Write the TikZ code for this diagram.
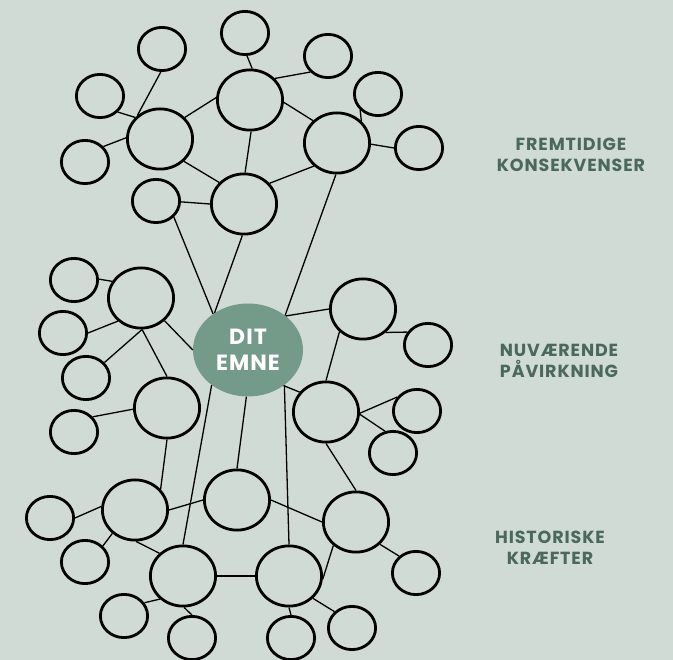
\documentclass[tikz,border=0pt]{standalone}
\usepackage{fontspec}
\usetikzlibrary{shapes.geometric}
\newfontfamily\labfont{Poppins}[LetterSpace=5]
\definecolor{bgc}{HTML}{D1DBD6}
\definecolor{hubc}{HTML}{749B89}
\definecolor{labc}{HTML}{4A685B}
\begin{document}
\begin{tikzpicture}[x=1pt,y=-1pt,
  ring/.style={ellipse,draw=black,line width=2.8pt,inner sep=0pt},
  sm/.style={ring,minimum width=47.2pt,minimum height=43.2pt},
  md/.style={ring,minimum width=65.2pt,minimum height=60.2pt},
  hub/.style={ellipse,fill=hubc,minimum width=110pt,minimum height=93pt,inner sep=0pt,
    text=white,align=center,font=\labfont\bfseries\fontsize{22}{26}\selectfont},
  link/.style={line width=1.3pt,draw=black},
  lab/.style={text=labc,align=center,inner sep=0pt,
    font=\labfont\bfseries\fontsize{17.5}{21}\selectfont}]
\fill[bgc] (0,0) rectangle (673,660);
\useasboundingbox (0,0) rectangle (673,660);

% central topic
\node[hub] (c) at (248,350) {DIT\\EMNE};

% upper cluster
\node[sm] (t1) at (162,49) {};
\node[sm] (t2) at (245,33) {};
\node[sm] (t3) at (328,56) {};
\node[sm] (t4) at (100,96) {};
\node[sm] (t5) at (378,94) {};
\node[md] (t6) at (250,100) {};
\node[md] (t7) at (160,139) {};
\node[md] (t8) at (337,143) {};
\node[sm] (t9) at (85,162) {};
\node[sm] (t10) at (419,148) {};
\node[sm] (t11) at (156,201) {};
\node[md] (t12) at (244,204) {};

% middle cluster
\node[sm] (m1) at (74,280) {};
\node[md] (m2) at (141,298) {};
\node[sm] (m3) at (63,333) {};
\node[sm] (m4) at (86,378) {};
\node[md] (m5) at (167,408) {};
\node[sm] (m6) at (74,432) {};
\node[md] (m7) at (363,309) {};
\node[sm] (m8) at (428,345) {};
\node[md] (m9) at (326,412) {};
\node[sm] (m10) at (417,411) {};
\node[sm] (m11) at (393,453) {};

% lower cluster
\node[md] (b1) at (135,510) {};
\node[sm] (b2) at (50,518) {};
\node[md] (b3) at (237,500) {};
\node[md] (b4) at (356,522) {};
\node[md] (b5) at (183,576) {};
\node[md] (b6) at (289,576) {};
\node[sm] (b7) at (85,562) {};
\node[sm] (b8) at (124,616) {};
\node[sm] (b9) at (192,638) {};
\node[sm] (b10) at (291,638) {};
\node[sm] (b11) at (352,628) {};
\node[sm] (b12) at (416,573) {};

% connectors, upper cluster
\draw[link] (t1.-93) -- (t7.134);
\draw[link] (t4.-42) -- (t7.139);
\draw[link] (t9.40) -- (t7.178);
\draw[link] (t7.41) -- (t6.176);
\draw[link] (t2.-85) -- (t6.86);
\draw[link] (t6.41) -- (t3.222);
\draw[link] (t6.-4) -- (t8.137);
\draw[link] (t6.-88) -- (t12.88);
\draw[link] (t7.-43) -- (t12.139);
\draw[link] (t5.-138) -- (t8.42);
\draw[link] (t8.-2) -- (t10.180);
\draw[link] (t8.-135) -- (t12.39);
\draw[link] (t11.-2) -- (t12.180);
\draw[link] (t11.-42) -- (c.134);
\draw[link] (t12.-93) -- (c.132);
\draw[link] (t8.-92) -- (c.43);

% connectors, middle cluster
\draw[link] (m1.2) -- (m2.150);
\draw[link] (m3.0) -- (m2.-135);
\draw[link] (m4.40) -- (m2.-88);
\draw[link] (m2.-88) -- (m5.90);
\draw[link] (m2.-44) -- (c.180);
\draw[link] (m6.39) -- (m5.182);
\draw[link] (c.42) -- (m7.180);
\draw[link] (m7.-46) -- (m8.148);
\draw[link] (m7.-136) -- (m9.90);
\draw[link] (c.-45) -- (m9.143);
\draw[link] (m9.-2) -- (m10.145);
\draw[link] (m9.-4) -- (m11.110);
\draw[link] (m9.-90) -- (b4.90);
\draw[link] (m5.-90) -- (b1.39);

% connectors from the centre down
\draw[link] (c.-92) -- (b3.90);
\draw[link] (c.-136) -- (b5.90);
\draw[link] (c.-44) -- (b6.90);

% connectors, lower cluster
\draw[link] (b2.0) -- (b1.174);
\draw[link] (b7.42) -- (b1.-134);
\draw[link] (b1.0) -- (b3.180);
\draw[link] (b1.-88) -- (b5.136);
\draw[link] (b3.0) -- (b4.180);
\draw[link] (b4.-134) -- (b6.-5);
\draw[link] (b4.-43) -- (b12.135);
\draw[link] (b5.0) -- (b6.180);
\draw[link] (b5.-135) -- (b8.33);
\draw[link] (b5.-88) -- (b9.90);
\draw[link] (b6.-90) -- (b10.90);
\draw[link] (b6.-43) -- (b11.137);

% section labels
\node[lab] (lf) at (571,154.5) {FREMTIDIGE\\KONSEKVENSER};
\node[lab] (ln) at (559,360.5) {NUVÆRENDE\\PÅVIRKNING};
\node[lab] (lh) at (550,548) {HISTORISKE\\KRÆFTER};
\end{tikzpicture}
\end{document}
